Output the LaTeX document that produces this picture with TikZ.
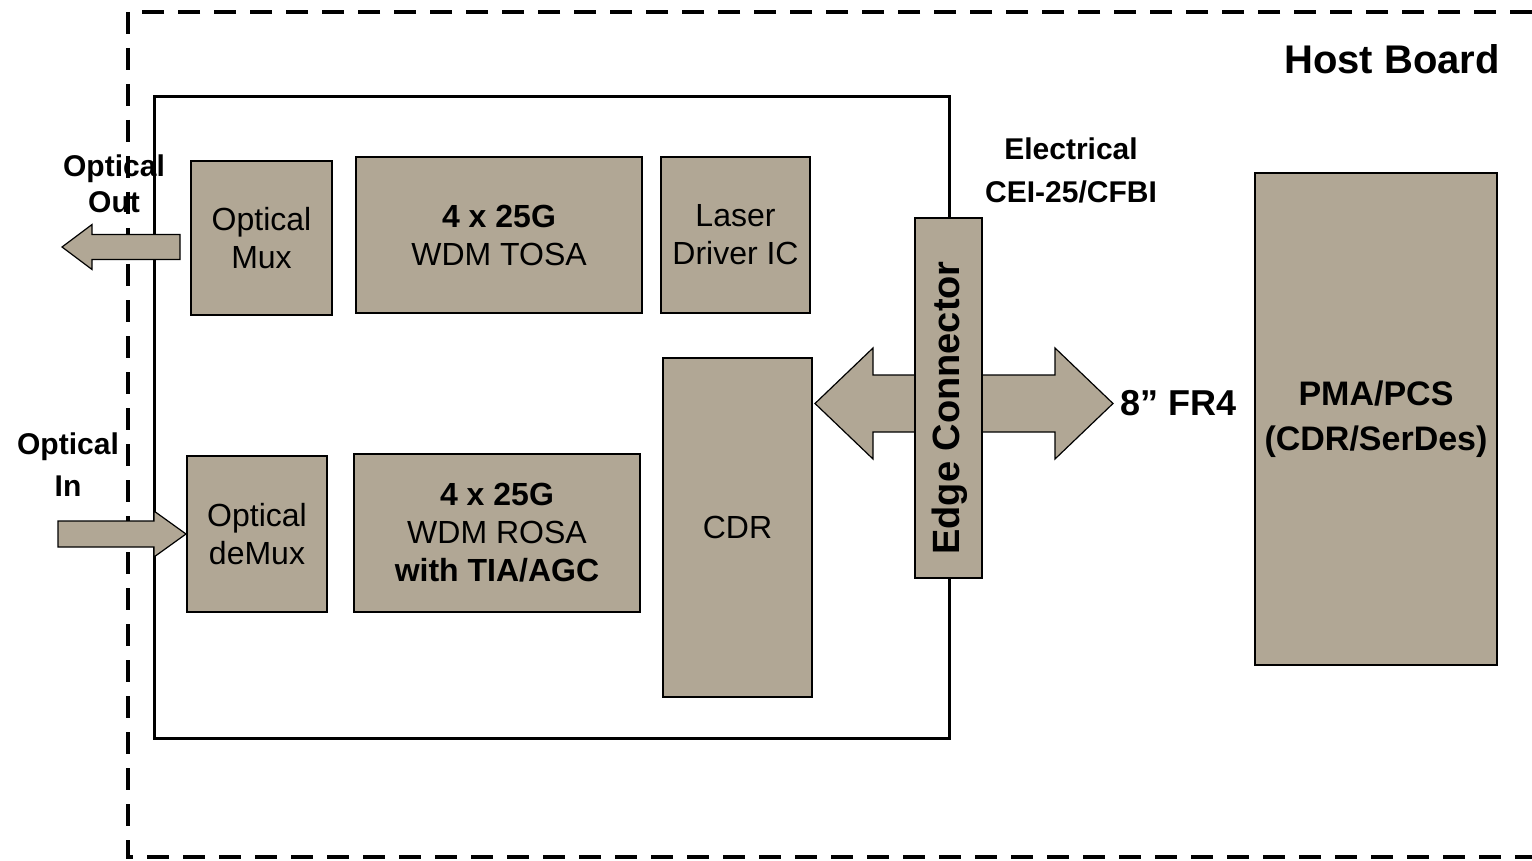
\documentclass[tikz,border=0pt]{standalone}
\usepackage{fontspec}
\setmainfont{Liberation Sans}
\usetikzlibrary{calc}
\definecolor{boxfill}{RGB}{177,167,149}
\begin{document}
\begin{tikzpicture}[x=1pt,y=-1pt,
  blk/.style={draw=black, line width=2pt, fill=boxfill, inner sep=0pt, align=center,
              font=\fontsize{32}{38}\selectfont},
  lbl/.style={inner sep=0pt, align=center, font=\bfseries\fontsize{30}{36}\selectfont},
  fat/.style={fill=boxfill, draw=black, line width=1.2pt, line join=miter},
  hostline/.style={line width=4pt, dash pattern=on 22pt off 14pt}]
\useasboundingbox (0,0) rectangle (1532,861);

% module outline
\node[draw=black, line width=3pt, minimum width=795pt, minimum height=641pt, inner sep=0pt]
  (module) at (551.5,417.5) {};

% host board outline (open on the right)
\coordinate (hbTR) at (1532,12);
\coordinate (hbTL) at (128,12);
\coordinate (hbBL) at (128,857);
\coordinate (hbBR) at (1532,857);
\draw[hostline] (hbTR) -- (hbTL) -- (hbBL) -- (hbBR);

\node[inner sep=0pt, anchor=base, font=\bfseries\fontsize{40}{48}\selectfont] (hostlbl) at (1392,74) {Host Board};

% blocks
\node[blk, minimum width=141pt, minimum height=154pt] (mux) at (261.5,238) {Optical\\Mux};
\node[blk, minimum width=286pt, minimum height=156pt] (tosa) at (499,235) {\textbf{4 x 25G}\\WDM TOSA};
\node[blk, minimum width=149pt, minimum height=156pt] (ldrv) at (735.5,235) {Laser\\Driver IC};
\node[blk, minimum width=140pt, minimum height=156pt] (demux) at (257,534) {Optical\\deMux};
\node[blk, minimum width=286pt, minimum height=158pt] (rosa) at (497,533) {\textbf{4 x 25G}\\WDM ROSA\\\textbf{with TIA/AGC}};
\node[blk, minimum width=149pt, minimum height=339pt] (cdr) at (737.5,527.5) {CDR};
\node[blk, minimum width=242pt, minimum height=492pt,
      font=\bfseries\fontsize{34}{45}\selectfont] (pma) at (1376,419) {PMA/PCS\\(CDR/SerDes)};

% labels
\node[lbl] (outlbl) at (114,184) {Optical\\Out};
\node[lbl, font=\bfseries\fontsize{30}{42}\selectfont] (inlbl) at (68,465) {Optical\\In};
\node[lbl, font=\bfseries\fontsize{30}{43}\selectfont] (elbl) at (1071,170) {Electrical\\CEI-25/CFBI};

% optical out arrow
\coordinate (outT) at (62,247);
\coordinate (outS) at (180,247);
\draw[fat] (outT) -- ($(outT)+(30,-22.5)$) -- ($(outT)+(30,-12.5)$) -- ($(outS)+(0,-12.5)$)
  -- ($(outS)+(0,12.5)$) -- ($(outT)+(30,12.5)$) -- ($(outT)+(30,22.5)$) -- cycle;

% optical in arrow
\coordinate (inT) at (demux.west);
\coordinate (inS) at (58,534);
\draw[fat] (inT) -- ($(inT)+(-32,-23)$) -- ($(inT)+(-32,-13)$) -- ($(inS)+(0,-13)$)
  -- ($(inS)+(0,13)$) -- ($(inT)+(-32,13)$) -- ($(inT)+(-32,23)$) -- cycle;

% electrical double arrow
\coordinate (dL) at (815,403.5);
\coordinate (dR) at (1113,403.5);
\draw[fat] (dL) -- ($(dL)+(58,-55.5)$) -- ($(dL)+(58,-28.5)$) -- ($(dR)+(-58,-28.5)$)
  -- ($(dR)+(-58,-55.5)$) -- (dR) -- ($(dR)+(-58,55.5)$) -- ($(dR)+(-58,28.5)$)
  -- ($(dL)+(58,28.5)$) -- ($(dL)+(58,55.5)$) -- cycle;

\node[inner sep=0pt, anchor=base west, font=\bfseries\fontsize{36}{40}\selectfont] (fr4) at (1120,415) {8” FR4};

% edge connector
\node[blk, minimum width=67pt, minimum height=360pt] (edge) at (948.5,398) {};
\node[inner sep=0pt, rotate=90, font=\bfseries\fontsize{38}{40}\selectfont] (edgelbl) at (950,408) {Edge Connector};
\end{tikzpicture}
\end{document}
